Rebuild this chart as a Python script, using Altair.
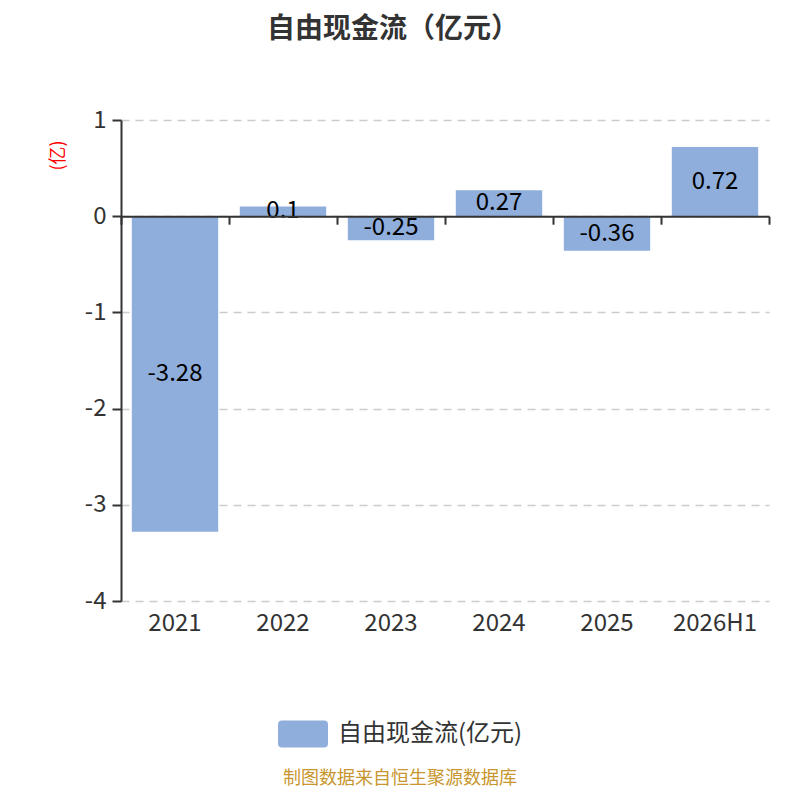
import altair as alt
import pandas as pd

years = ["2021", "2022", "2023", "2024", "2025", "2026H1"]
values = [-3.28, 0.1, -0.25, 0.27, -0.36, 0.72]
series_name = "自由现金流(亿元)"
y_ticks = [-4, -3, -2, -1, 0, 1]

df = pd.DataFrame({"year": years, "value": values, "series": [series_name] * len(years)})

FONT = "Noto Sans CJK SC"
BAR = "#8FAEDB"

xs = alt.Scale(domain=years, paddingInner=0, paddingOuter=0)
ys = alt.Scale(domain=[-4, 1], nice=False, zero=False)

rounded = ("M-0.84,-0.54 L0.84,-0.54 Q1,-0.54 1,-0.38 L1,0.38 Q1,0.54 0.84,0.54 "
           "L-0.84,0.54 Q-1,0.54 -1,0.38 L-1,-0.38 Q-1,-0.54 -0.84,-0.54 Z")

base = alt.Chart(df)

bars = base.mark_bar(width=alt.RelativeBandSize(0.8), color=BAR).encode(
    x=alt.X("year:N", scale=xs, sort=years, title=None,
            axis=alt.Axis(labelAngle=0, domain=False, ticks=False, grid=False,
                          labelFont=FONT, labelFontSize=24, labelColor="#333333",
                          labelPadding=10, orient="bottom")),
    y=alt.Y("value:Q", scale=ys,
            axis=alt.Axis(values=y_ticks, labelExpr="datum.value + ''",
                          title="(亿)", titleColor="red", titleFont=FONT,
                          titleFontSize=18, titleFontWeight="normal", titleAngle=270,
                          titleX=-63, titleY=35, titleAlign="center", titleBaseline="middle",
                          labelFont=FONT, labelFontSize=24, labelColor="#333333", labelPadding=6,
                          domainColor="#333333", domainWidth=2, tickColor="#333333",
                          tickSize=9, tickWidth=2,
                          grid=True, gridColor="#cccccc", gridDash=[8, 6], gridWidth=1.5)),
    color=alt.Color("series:N", scale=alt.Scale(domain=[series_name], range=[BAR]),
                    legend=alt.Legend(title=None, orient="none", legendX=157, legendY=589,
                                      symbolType=rounded, symbolSize=2500, symbolStrokeWidth=0,
                                      labelFont=FONT, labelFontSize=24, labelColor="#333333",
                                      labelOffset=10, labelLimit=0)),
)

labels = base.transform_calculate(
    mid="datum.value / 2", lab="datum.value + ''"
).mark_text(font=FONT, fontSize=24, color="#000000", baseline="middle").encode(
    x=alt.X("year:N", scale=xs, sort=years, title=None,
            axis=alt.Axis(labels=False, domain=True, domainColor="#333333", domainWidth=2,
                          ticks=True, tickBand="extent", tickColor="#333333", tickWidth=2,
                          tickSize=8, grid=False, orient="bottom", offset=-384.8, zindex=1)),
    y=alt.Y("mid:Q", scale=ys),
    text="lab:N",
)

footer = alt.Chart(pd.DataFrame({"t": ["制图数据来自恒生聚源数据库"]})).mark_text(
    font=FONT, fontSize=18, color="#C8962E", align="center", baseline="middle"
).encode(x=alt.value(279), y=alt.value(659), text="t:N")

chart = alt.layer(bars, labels, footer).resolve_axis(x="independent").properties(
    width=648, height=481,
    padding={"left": 113, "top": 112, "right": 23, "bottom": 191},
    autosize=alt.AutoSizeParams(type="none"),
    title=alt.TitleParams("自由现金流（亿元）", font=FONT, fontSize=28, fontWeight="bold",
                          color="#333333", anchor="middle", dx=-52, offset=64),
).configure_view(stroke=None)

chart.save("out.html", embed_options={"renderer": "svg", "actions": False})
